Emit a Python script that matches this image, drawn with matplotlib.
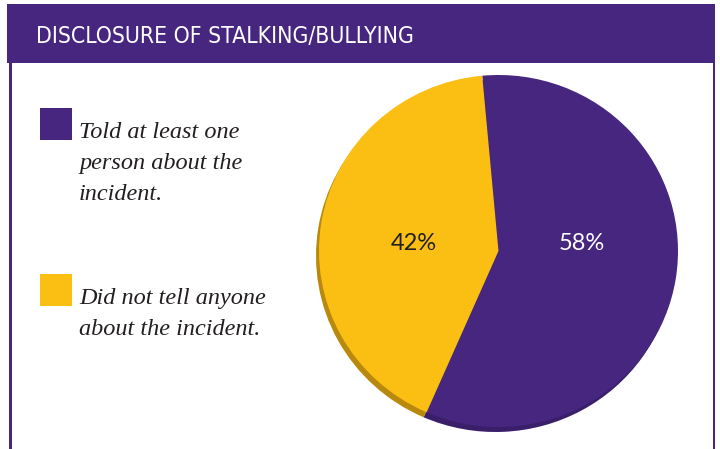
import matplotlib
matplotlib.use("Agg")
import matplotlib.pyplot as plt
from matplotlib.patches import Rectangle

# data
labels = [["Told at least one", "person about the", "incident."],
          ["Did not tell anyone", "about the incident."]]
values = [58, 42]
title = "DISCLOSURE OF STALKING/BULLYING"

purple = "#47267f"
yellow = "#fbbf14"
shadow = ["#3a1e6a", "#b8890c"]
W, H = 720, 449

fig = plt.figure(figsize=(7.2, 4.49), dpi=100)
fig.patch.set_facecolor("white")

# overlay in pixel coords for frame, header and legend
bg = fig.add_axes([0, 0, 1, 1])
bg.set_xlim(0, W)
bg.set_ylim(H, 0)
bg.axis("off")

bg.add_patch(Rectangle((7, 4), 708, 59, color=purple, lw=0))
bg.add_patch(Rectangle((9, 63), 3, H - 63, color=purple, lw=0))
bg.add_patch(Rectangle((713, 63), 2, H - 63, color=purple, lw=0))
bg.text(36, 43, title, color="white", fontsize=16.5, va="baseline",
        family="DejaVu Sans", fontstretch="condensed")

# legend
sq_y = [108, 274]
for lines, c, y in zip(labels, [purple, yellow], sq_y):
    bg.add_patch(Rectangle((40, y), 32, 32, color=c, lw=0))
    for i, line in enumerate(lines):
        bg.text(79, y + 30 + i * 31, line, fontsize=17.5, style="italic",
                va="baseline", family="Liberation Serif", color="#231f20")

# pie
x0, x1, y0, y1 = 319, 678, 75, 427
ax = fig.add_axes([x0 / W, 1 - y1 / H, (x1 - x0) / W, (y1 - y0) / H])
rx, ry = (x1 - x0) / 2, (y1 - y0) / 2
ax.pie(values, colors=shadow, startangle=95.2, counterclock=False,
       center=(-3 / rx, -5 / ry), wedgeprops=dict(lw=0))
ax.pie(values, colors=[purple, yellow], startangle=95.2, counterclock=False,
       wedgeprops=dict(lw=0))
ax.set_aspect("auto")
ax.set_xlim(-1, 1)
ax.set_ylim(-1, 1)
ax.axis("off")

lab_pos = [(83 / rx, 7 / ry), (-85 / rx, 7 / ry)]
for v, (px, py), c in zip(values, lab_pos, ["white", "#231f20"]):
    ax.text(px, py, f"{v}%", ha="center", va="center", fontsize=17,
            family="Lato", color=c)

fig.savefig("out.png", dpi=100)
